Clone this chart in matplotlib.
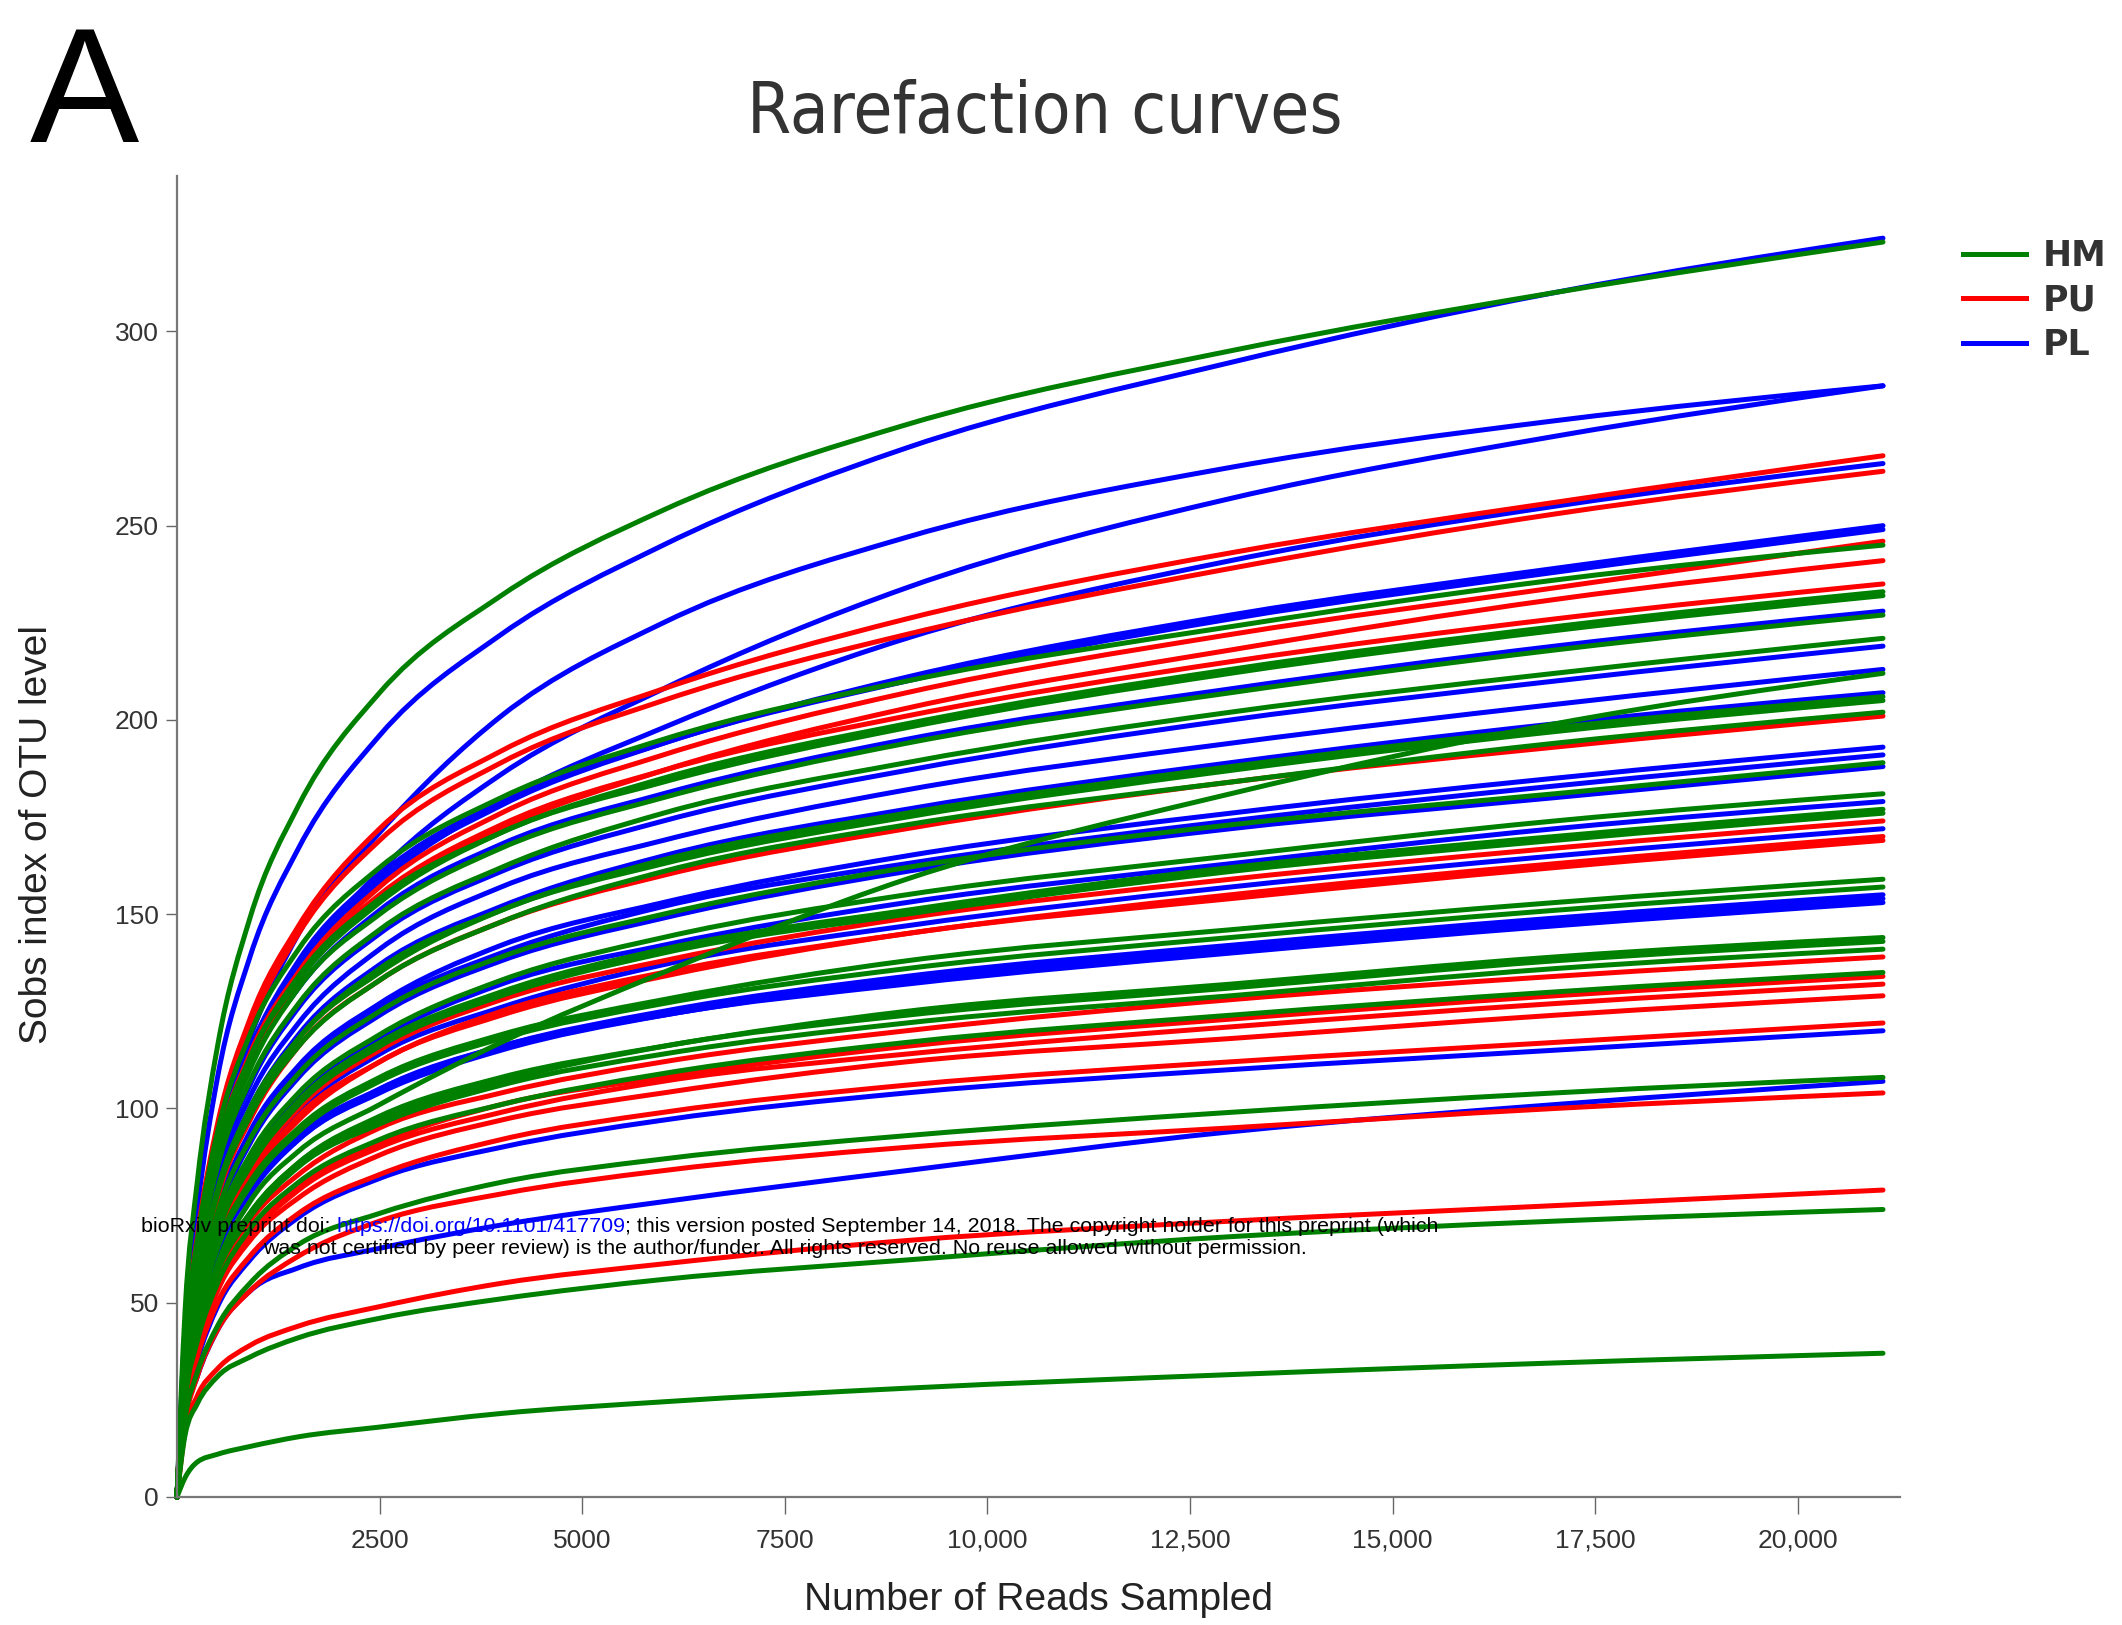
import matplotlib
matplotlib.use("Agg")
import numpy as np
import matplotlib.pyplot as plt
from matplotlib.lines import Line2D
from matplotlib.path import Path
from matplotlib.patches import PathPatch
from matplotlib import font_manager

# ---------------- data ----------------
X_READS = [0, 100, 250, 500, 900, 1500, 2500, 4000, 6000, 9000, 13000, 17000, 21050]

# HM (green)
HM01 = [0, 48, 81, 116, 149, 178, 207, 232, 254, 276, 295, 310, 323]
HM02 = [0, 40, 66, 94, 119, 141, 162, 180, 195, 210, 224, 236, 245]
HM03 = [0, 38, 63, 90, 113, 134, 154, 171, 185, 199, 213, 224, 233]
HM04 = [0, 38, 63, 89, 113, 133, 153, 171, 184, 198, 212, 223, 232]
HM05 = [0, 37, 61, 87, 110, 131, 150, 167, 180, 194, 207, 218, 227]
HM06 = [0, 36, 60, 85, 107, 127, 146, 162, 176, 189, 202, 212, 221]
HM07 = [0, 25, 42, 60, 76, 89, 101, 117, 135, 159, 181, 199, 212]
HM08 = [0, 34, 56, 79, 100, 118, 136, 151, 164, 176, 188, 198, 206]
HM09 = [0, 34, 55, 79, 99, 118, 135, 151, 163, 175, 187, 197, 205]
HM10 = [0, 33, 55, 78, 98, 116, 133, 148, 161, 173, 184, 194, 202]
HM11 = [0, 31, 51, 73, 92, 109, 125, 139, 150, 162, 173, 181, 189]
HM12 = [0, 30, 49, 70, 88, 104, 119, 133, 144, 155, 165, 174, 181]
HM13 = [0, 29, 48, 68, 86, 102, 117, 130, 141, 151, 162, 170, 177]
HM14 = [0, 29, 48, 68, 85, 101, 116, 129, 140, 150, 161, 169, 176]
HM15 = [0, 29, 47, 65, 81, 95, 108, 119, 128, 138, 146, 153, 159]
HM16 = [0, 29, 46, 64, 80, 94, 107, 118, 127, 136, 144, 151, 157]
HM17 = [0, 27, 42, 59, 73, 86, 98, 108, 116, 125, 132, 139, 144]
HM18 = [0, 26, 42, 59, 73, 86, 97, 107, 116, 124, 131, 138, 143]
HM19 = [0, 26, 42, 58, 72, 85, 96, 106, 114, 122, 129, 136, 141]
HM20 = [0, 25, 40, 55, 69, 81, 92, 101, 109, 117, 124, 130, 135]
HM21 = [0, 20, 32, 44, 55, 65, 73, 81, 87, 93, 99, 104, 108]
HM22 = [0, 16, 24, 31, 36, 41, 46, 51, 56, 61, 67, 71, 74]
HM23 = [0, 5, 9, 11, 13, 15.5, 18, 21.5, 24.5, 28, 31.5, 34.5, 37]

# PU (red)
PU01 = [0, 40, 67, 96, 123, 147, 172, 192, 208, 226, 243, 256, 268]
PU02 = [0, 40, 66, 95, 121, 145, 169, 189, 205, 222, 239, 253, 264]
PU03 = [0, 37, 62, 89, 113, 135, 157, 176, 191, 207, 222, 234, 246]
PU04 = [0, 36, 60, 87, 111, 133, 154, 172, 187, 203, 218, 231, 241]
PU05 = [0, 39, 63, 90, 114, 135, 155, 173, 187, 201, 215, 226, 235]
PU06 = [0, 33, 54, 77, 97, 116, 133, 148, 160, 172, 184, 193, 201]
PU07 = [0, 29, 47, 67, 84, 100, 115, 128, 138, 149, 159, 167, 174]
PU08 = [0, 28, 46, 65, 82, 98, 112, 125, 135, 145, 155, 163, 170]
PU09 = [0, 28, 46, 65, 82, 97, 112, 124, 134, 145, 154, 162, 169]
PU10 = [0, 26, 41, 57, 71, 83, 95, 104, 112, 120, 128, 134, 139]
PU11 = [0, 25, 40, 55, 68, 80, 91, 101, 108, 116, 123, 129, 134]
PU12 = [0, 24, 39, 54, 67, 79, 90, 99, 107, 114, 121, 127, 132]
PU13 = [0, 24, 38, 53, 66, 77, 88, 97, 104, 112, 118, 124, 129]
PU14 = [0, 23, 36, 50, 62, 73, 83, 92, 99, 106, 112, 117, 122]
PU15 = [0, 19, 31, 43, 53, 62, 71, 78, 84, 90, 95, 100, 104]
PU16 = [0, 17, 26, 33, 39, 44, 49, 55, 60, 66, 71, 75, 79]

# PL (blue)
PL01 = [0, 44, 74, 108, 139, 167, 196, 222, 245, 270, 292, 310, 324]
PL02 = [0, 38, 62, 91, 118, 145, 171, 201, 225, 247, 265, 277, 286]
PL03 = [0, 35, 58, 87, 112, 136, 161, 186, 208, 234, 257, 273, 286]
PL04 = [0, 37, 60, 88, 113, 136, 158, 179, 198, 221, 241, 255, 266]
PL05 = [0, 38, 63, 90, 115, 138, 160, 179, 194, 211, 227, 239, 250]
PL06 = [0, 37, 62, 90, 115, 137, 159, 178, 194, 210, 226, 238, 249]
PL07 = [0, 38, 62, 88, 111, 131, 151, 168, 181, 195, 208, 219, 228]
PL08 = [0, 36, 59, 84, 106, 126, 145, 161, 174, 187, 200, 210, 219]
PL09 = [0, 35, 58, 82, 103, 122, 141, 157, 169, 182, 194, 204, 213]
PL10 = [0, 34, 56, 80, 100, 119, 137, 152, 165, 177, 189, 199, 207]
PL11 = [0, 32, 52, 74, 94, 111, 127, 142, 153, 165, 176, 185, 193]
PL12 = [0, 32, 52, 74, 93, 110, 126, 140, 152, 163, 174, 183, 191]
PL13 = [0, 31, 51, 72, 91, 108, 124, 138, 149, 161, 172, 180, 188]
PL14 = [0, 30, 48, 69, 87, 103, 118, 132, 142, 153, 163, 172, 179]
PL15 = [0, 28, 46, 66, 83, 99, 114, 126, 137, 147, 157, 165, 172]
PL16 = [0, 29, 46, 64, 79, 93, 105, 116, 125, 134, 142, 149, 155]
PL17 = [0, 28, 45, 63, 79, 92, 105, 116, 124, 133, 141, 148, 154]
PL18 = [0, 28, 45, 63, 78, 92, 104, 115, 124, 132, 140, 147, 153]
PL19 = [0, 22, 35, 49, 61, 72, 82, 90, 97, 104, 110, 115, 120]
PL20 = [0, 20, 31, 43, 53, 59, 64, 70, 76, 84, 94, 101, 107]

GROUP_NAMES = ["HM", "PU", "PL"]
GROUP_COLORS = ["#008000", "#ff0000", "#0000ff"]
HM_CURVES = [HM01, HM02, HM03, HM04, HM05, HM06, HM07, HM08, HM09, HM10, HM11, HM12,
             HM13, HM14, HM15, HM16, HM17, HM18, HM19, HM20, HM21, HM22, HM23]
PU_CURVES = [PU01, PU02, PU03, PU04, PU05, PU06, PU07, PU08, PU09, PU10, PU11, PU12,
             PU13, PU14, PU15, PU16]
PL_CURVES = [PL01, PL02, PL03, PL04, PL05, PL06, PL07, PL08, PL09, PL10, PL11, PL12,
             PL13, PL14, PL15, PL16, PL17, PL18, PL19, PL20]

X_TICKS = [2500, 5000, 7500, 10000, 12500, 15000, 17500, 20000]
X_TICKLABELS = ["2500", "5000", "7500", "10,000", "12,500", "15,000", "17,500", "20,000"]
Y_TICKS = [0, 50, 100, 150, 200, 250, 300]

# ---------------- fonts ----------------
def has_font(name):
    try:
        font_manager.findfont(font_manager.FontProperties(family=name), fallback_to_default=False)
        return True
    except Exception:
        return False

BASE = "Liberation Sans" if has_font("Liberation Sans") else "DejaVu Sans"
plt.rcParams["font.family"] = [BASE, "DejaVu Sans"]

def find_condensed():
    best = None
    for f in font_manager.fontManager.ttflist:
        nm = f.name
        st = str(f.stretch)
        narrow = ("Narrow" in nm) or ("Condensed" in nm) or ("condensed" in st)
        if not narrow or f.style != "normal":
            continue
        if f.weight not in (400, "normal", "regular", "book", "Regular"):
            continue
        if "Liberation Sans Narrow" in nm:
            score = 3
        elif "extra" in st or "ultra" in st:
            score = 2
        else:
            score = 1
        if best is None or score > best[0]:
            best = (score, f.fname)
    return best[1] if best else None

COND_FILE = find_condensed()

# ---------------- smooth (monotone cubic) rendering of the read points ----------------
def monotone_path(x, y):
    x = np.asarray(x, float)
    y = np.asarray(y, float)
    h = np.diff(x)
    d = np.diff(y) / h
    n = len(x)
    m = np.zeros(n)
    for i in range(1, n - 1):
        s0, s1 = d[i - 1], d[i]
        p = (s0 * h[i] + s1 * h[i - 1]) / (h[i - 1] + h[i])
        m[i] = (np.sign(s0) + np.sign(s1)) * min(abs(s0), abs(s1), 0.5 * abs(p))
    m[0] = (3 * d[0] - m[1]) / 2
    m[-1] = (3 * d[-1] - m[-2]) / 2
    verts = [(x[0], y[0])]
    codes = [Path.MOVETO]
    for i in range(n - 1):
        dx = h[i] / 3.0
        verts += [(x[i] + dx, y[i] + m[i] * dx), (x[i + 1] - dx, y[i + 1] - m[i + 1] * dx),
                  (x[i + 1], y[i + 1])]
        codes += [Path.CURVE4] * 3
    return Path(verts, codes)

# ---------------- figure ----------------
W, H = 2122, 1625
fig = plt.figure(figsize=(W / 100, H / 100), dpi=100)
fig.patch.set_facecolor("white")
ax = fig.add_axes([177 / W, 1 - 1497 / H, (1900 - 177) / W, (1497 - 176) / H])

# drawing order: PL first, then PU, then HM on top
for curves, col in [(PL_CURVES, GROUP_COLORS[2]), (PU_CURVES, GROUP_COLORS[1]),
                    (HM_CURVES, GROUP_COLORS[0])]:
    for vals in curves:
        patch = PathPatch(monotone_path(X_READS, vals), facecolor="none", edgecolor=col,
                          lw=3.6, capstyle="round", joinstyle="round",
                          transform=ax.transData, clip_on=False)
        ax.add_patch(patch)

ax.set_xlim(0, 21260)
ax.set_ylim(0, 340)
for s in ["top", "right"]:
    ax.spines[s].set_visible(False)
for s in ["left", "bottom"]:
    ax.spines[s].set_color("#777777")
    ax.spines[s].set_linewidth(1.6)

ax.set_xticks(X_TICKS)
ax.set_xticklabels(X_TICKLABELS)
ax.set_yticks(Y_TICKS)
ax.tick_params(axis="x", direction="out", length=12, width=1.0, color="#666666",
               pad=11, labelsize=19, labelcolor="#333333")
ax.tick_params(axis="y", direction="out", length=8, width=1.0, color="#666666",
               pad=5, labelsize=19, labelcolor="#333333")

fig.text(1038 / W, 1 - 1600 / H, "Number of Reads Sampled", ha="center", va="center",
         fontsize=28, color="#222222")
fig.text(37 / W, 1 - 835 / H, "Sobs index of OTU level", ha="center", va="center",
         rotation=90, fontsize=28, color="#222222")

# title: size is a compromise between the reference's width and its height
if COND_FILE:
    title = fig.text(1045 / W, 1 - 133 / H, "Rarefaction curves", ha="center", va="baseline",
                     color="#333333",
                     fontproperties=font_manager.FontProperties(fname=COND_FILE, size=50))
else:
    title = fig.text(1045 / W, 1 - 133 / H, "Rarefaction curves", ha="center", va="baseline",
                     color="#333333", fontsize=50)
fig.canvas.draw()
wpx = title.get_window_extent().width
size_w = 50 * 399.0 / wpx
size_h = 76.0
title.set_fontsize(float(np.sqrt(size_w * size_h)))

fig.text(30 / W, 1 - 142 / H, "A", ha="left", va="baseline", fontsize=118, color="black")

handles = [Line2D([], [], color=c, lw=3.6) for c in GROUP_COLORS]
leg = fig.legend(handles, GROUP_NAMES, loc="upper left", bbox_to_anchor=(1963 / W, 1 - 239 / H),
                 frameon=False, borderpad=0, borderaxespad=0, handlelength=1.8,
                 handletextpad=0.5, labelspacing=0.3,
                 prop={"family": ["DejaVu Sans"], "weight": "bold", "size": 25})
for t in leg.get_texts():
    t.set_color("#333333")

# preprint watermark
WM = 15.4
t1 = fig.text(141 / W, 1 - 1232 / H, "bioRxiv preprint doi: ", ha="left", va="baseline",
              fontsize=WM, color="black")
a2 = ax.annotate("https://doi.org/10.1101/417709", xy=(1, 0), xycoords=t1, va="bottom",
                 fontsize=WM, color="#0000ff", annotation_clip=False)
a3 = ax.annotate("; this version posted September 14, 2018. The copyright holder for this preprint (which",
                 xy=(1, 0), xycoords=a2, va="bottom", fontsize=WM, color="black",
                 annotation_clip=False)
fig.text(785 / W, 1 - 1254 / H,
         "was not certified by peer review) is the author/funder. All rights reserved. No reuse allowed without permission.",
         ha="center", va="baseline", fontsize=WM, color="black")

fig.savefig("out.png", dpi=100, facecolor="white")
